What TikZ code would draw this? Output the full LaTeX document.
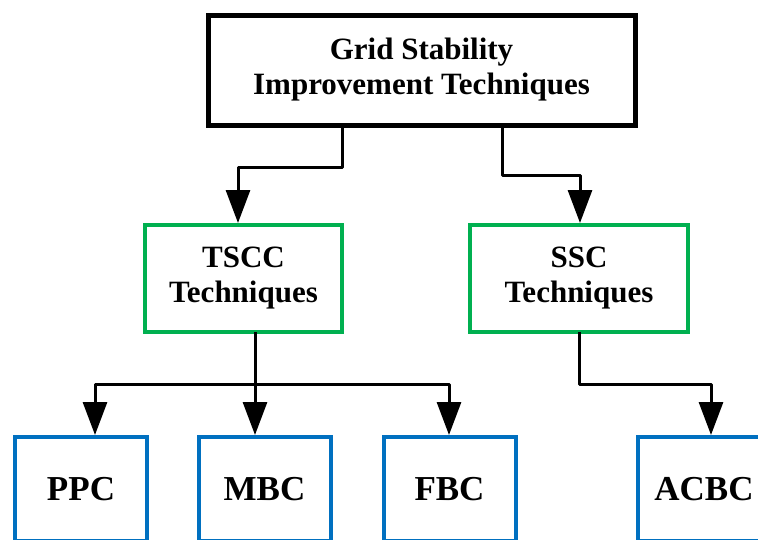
\documentclass[tikz,border=0pt]{standalone}
\usepackage{fontspec}
\setmainfont{Liberation Serif}
\usetikzlibrary{arrows.meta,calc,positioning}
\definecolor{techgreen}{RGB}{0,176,80}
\definecolor{ctrlblue}{RGB}{0,112,192}

\begin{document}
\begin{tikzpicture}[
  x=1pt, y=-1pt,
  font=\rmfamily\bfseries,
  line/.style={line width=3pt, line join=round},
  arrow/.style={line, -{Triangle[length=33pt,width=24pt]}, shorten >=2pt},
  box/.style={draw, rectangle, outer sep=0pt, inner sep=0pt, align=center, fill=white},
  rootbox/.style={box, line width=5pt, minimum width=427pt, minimum height=110pt, font=\rmfamily\bfseries\fontsize{31}{35}\selectfont},
  groupbox/.style={box, draw=techgreen, line width=4pt, minimum height=107pt, font=\rmfamily\bfseries\fontsize{31}{35}\selectfont},
  leafbox/.style={box, draw=ctrlblue, line width=4pt, minimum width=132pt, minimum height=104pt, font=\rmfamily\bfseries\fontsize{35}{40}\selectfont}
]

\useasboundingbox (0,0) rectangle (758,539);
\clip (0,0) rectangle (758,539);

% Root
\node[rootbox] (gsit) at (421.5,70) {Grid Stability\\Improvement Techniques};

% Technique groups
\node[groupbox, minimum width=197pt] (tscc) at (243.5,278.5) {TSCC\\Techniques};
\node[groupbox, minimum width=218pt] (ssc) at (579,278.5) {SSC\\Techniques};

% Controllers (bottom row runs past the lower margin)
\node[leafbox] (ppc) at (81,489) {PPC};
\node[leafbox] (mbc) at (264.5,489) {MBC};
\node[leafbox] (fbc) at (449.5,489) {FBC};
\node[leafbox] (acbc) at (704,489) {ACBC};

% Root -> groups
\draw[arrow] ([xshift=-79.5pt]gsit.south) -- ++(0,42) -| ([xshift=-5.5pt]tscc.north);
\draw[arrow] ([xshift=80.5pt]gsit.south) -- ++(0,50) -| ([xshift=1pt]ssc.north);

% TSCC -> PPC, MBC, FBC
\draw[line] ([xshift=11.5pt]tscc.south) -- ++(0,52) coordinate (tbus);
\draw[arrow] (tbus) -| ([xshift=14pt]ppc.north);
\draw[arrow] (tbus) -- ([xshift=-9.5pt]mbc.north);
\draw[arrow] (tbus) -| ([xshift=-0.5pt]fbc.north);

% SSC -> ACBC
\draw[arrow] (ssc.south) -- ++(0,52) -| ([xshift=7pt]acbc.north);

\end{tikzpicture}
\end{document}
